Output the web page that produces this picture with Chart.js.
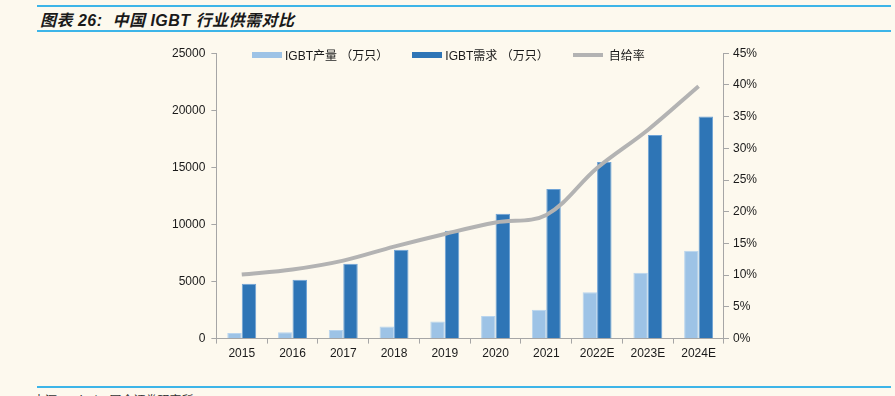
<!DOCTYPE html>
<html>
<head>
<meta charset="utf-8">
<script src="https://cdn.jsdelivr.net/npm/chart.js@4.4.1/dist/chart.umd.min.js"></script>
<style>
  html, body { margin: 0; padding: 0; }
  body { width: 895px; height: 396px; background: #fdf9ee; position: relative; overflow: hidden;
         font-family: "Liberation Sans", Arial, "Noto Sans CJK SC", sans-serif; }
  .rule { position: absolute; left: 37px; width: 854px; height: 2px; background: #3db5e8; }
  #title { position: absolute; left: 40px; top: 7px; font-size: 16px; font-weight: bold; font-style: italic;
           color: #1a1a1a; font-family: "Liberation Sans", "Noto Sans CJK SC", sans-serif; white-space: pre;
           letter-spacing: 0.5px; }
  #source { position: absolute; left: 33px; top: 391px; font-size: 12px; color: #333;
            font-family: "Noto Sans CJK SC", sans-serif; }
  #wrap { position: absolute; left: 0; top: 40px; width: 895px; height: 324px; }
  #legend { position: absolute; top: 46px; left: 252px; display: flex; font-size: 12px; color: #1a1a1a;
            font-family: "Liberation Sans", "Noto Sans CJK SC", sans-serif; white-space: pre; }
  .item { display: flex; align-items: center; margin-right: 24px; }
  .sw { width: 30px; height: 6px; margin-right: 3px; }
</style>
</head>
<body>
<div class="rule" style="top:5px"></div>
<div id="title">图表 26:  中国 IGBT 行业供需对比</div>
<div class="rule" style="top:30px"></div>
<div id="wrap"><canvas id="chart"></canvas></div>
<div id="legend"></div>
<div class="rule" style="top:386px"></div>
<div id="source">来源：Wind，国金证券研究所</div>
<script>
const years = ['2015', '2016', '2017', '2018', '2019', '2020', '2021', '2022E', '2023E', '2024E'];
const production = [480, 550, 760, 1050, 1490, 1980, 2530, 4050, 5770, 7690];   // 万只
const demand = [4800, 5160, 6560, 7780, 9440, 10930, 13110, 15470, 17830, 19450]; // 万只
const selfRate = [10.1, 10.9, 12.3, 14.5, 16.5, 18.3, 19.5, 26.9, 32.9, 39.8];    // %
const leftTicks = [0, 5000, 10000, 15000, 20000, 25000];
const rightTicks = [0, 5, 10, 15, 20, 25, 30, 35, 40, 45];

const axisColor = '#a6a6a6';
const tickFont = { family: 'Liberation Sans', size: 12 };

const datasets = [
  { type: 'bar', label: 'IGBT产量（万只）', data: production, backgroundColor: '#9dc3e6',
    borderColor: '#b9d5ee', borderWidth: 1, yAxisID: 'y', order: 2,
    barPercentage: 1, categoryPercentage: 0.57 },
  { type: 'bar', label: 'IGBT需求（万只）', data: demand, backgroundColor: '#2e75b6',
    borderColor: '#6fa3d6', borderWidth: 1, yAxisID: 'y', order: 2,
    barPercentage: 1, categoryPercentage: 0.57 },
  { type: 'line', label: '自给率', data: selfRate, borderColor: '#b3b3b3', backgroundColor: '#b3b3b3',
    borderWidth: 4, pointRadius: 0, tension: 0.35, yAxisID: 'y1', order: 1 }
];

// html legend
const legend = document.getElementById('legend');
datasets.forEach(d => {
  const item = document.createElement('div');
  item.className = 'item';
  const sw = document.createElement('div');
  sw.className = 'sw';
  sw.style.background = d.backgroundColor;
  if (d.type === 'line') { sw.style.height = '4px'; sw.style.marginRight = '6px'; }
  const label = document.createElement('span');
  label.textContent = d.label.replace('（', ' （');
  item.appendChild(sw);
  item.appendChild(label);
  legend.appendChild(item);
});

new Chart(document.getElementById('chart'), {
  data: { labels: years, datasets: datasets },
  options: {
    responsive: true,
    maintainAspectRatio: false,
    animation: false,
    layout: { padding: { left: 166, right: 134, top: 6, bottom: 0 } },
    plugins: { legend: { display: false }, tooltip: { enabled: false } },
    scales: {
      x: {
        offset: true,
        grid: { offset: true, drawOnChartArea: false, color: axisColor, tickLength: 5 },
        border: { color: axisColor },
        ticks: { color: '#1a1a1a', font: tickFont, padding: 3 }
      },
      y: {
        position: 'left',
        min: 0, max: 25000,
        afterBuildTicks: s => { s.ticks = leftTicks.map(v => ({ value: v })); },
        grid: { drawOnChartArea: false, color: axisColor, tickLength: 5 },
        border: { color: axisColor },
        ticks: { color: '#1a1a1a', font: tickFont, padding: 6, callback: v => String(v) }
      },
      y1: {
        position: 'right',
        min: 0, max: 45,
        afterBuildTicks: s => { s.ticks = rightTicks.map(v => ({ value: v })); },
        grid: { drawOnChartArea: false, color: axisColor, tickLength: 5 },
        border: { color: axisColor },
        ticks: { color: '#1a1a1a', font: tickFont, padding: 4, callback: v => v + '%' }
      }
    }
  }
});
</script>
</body>
</html>
